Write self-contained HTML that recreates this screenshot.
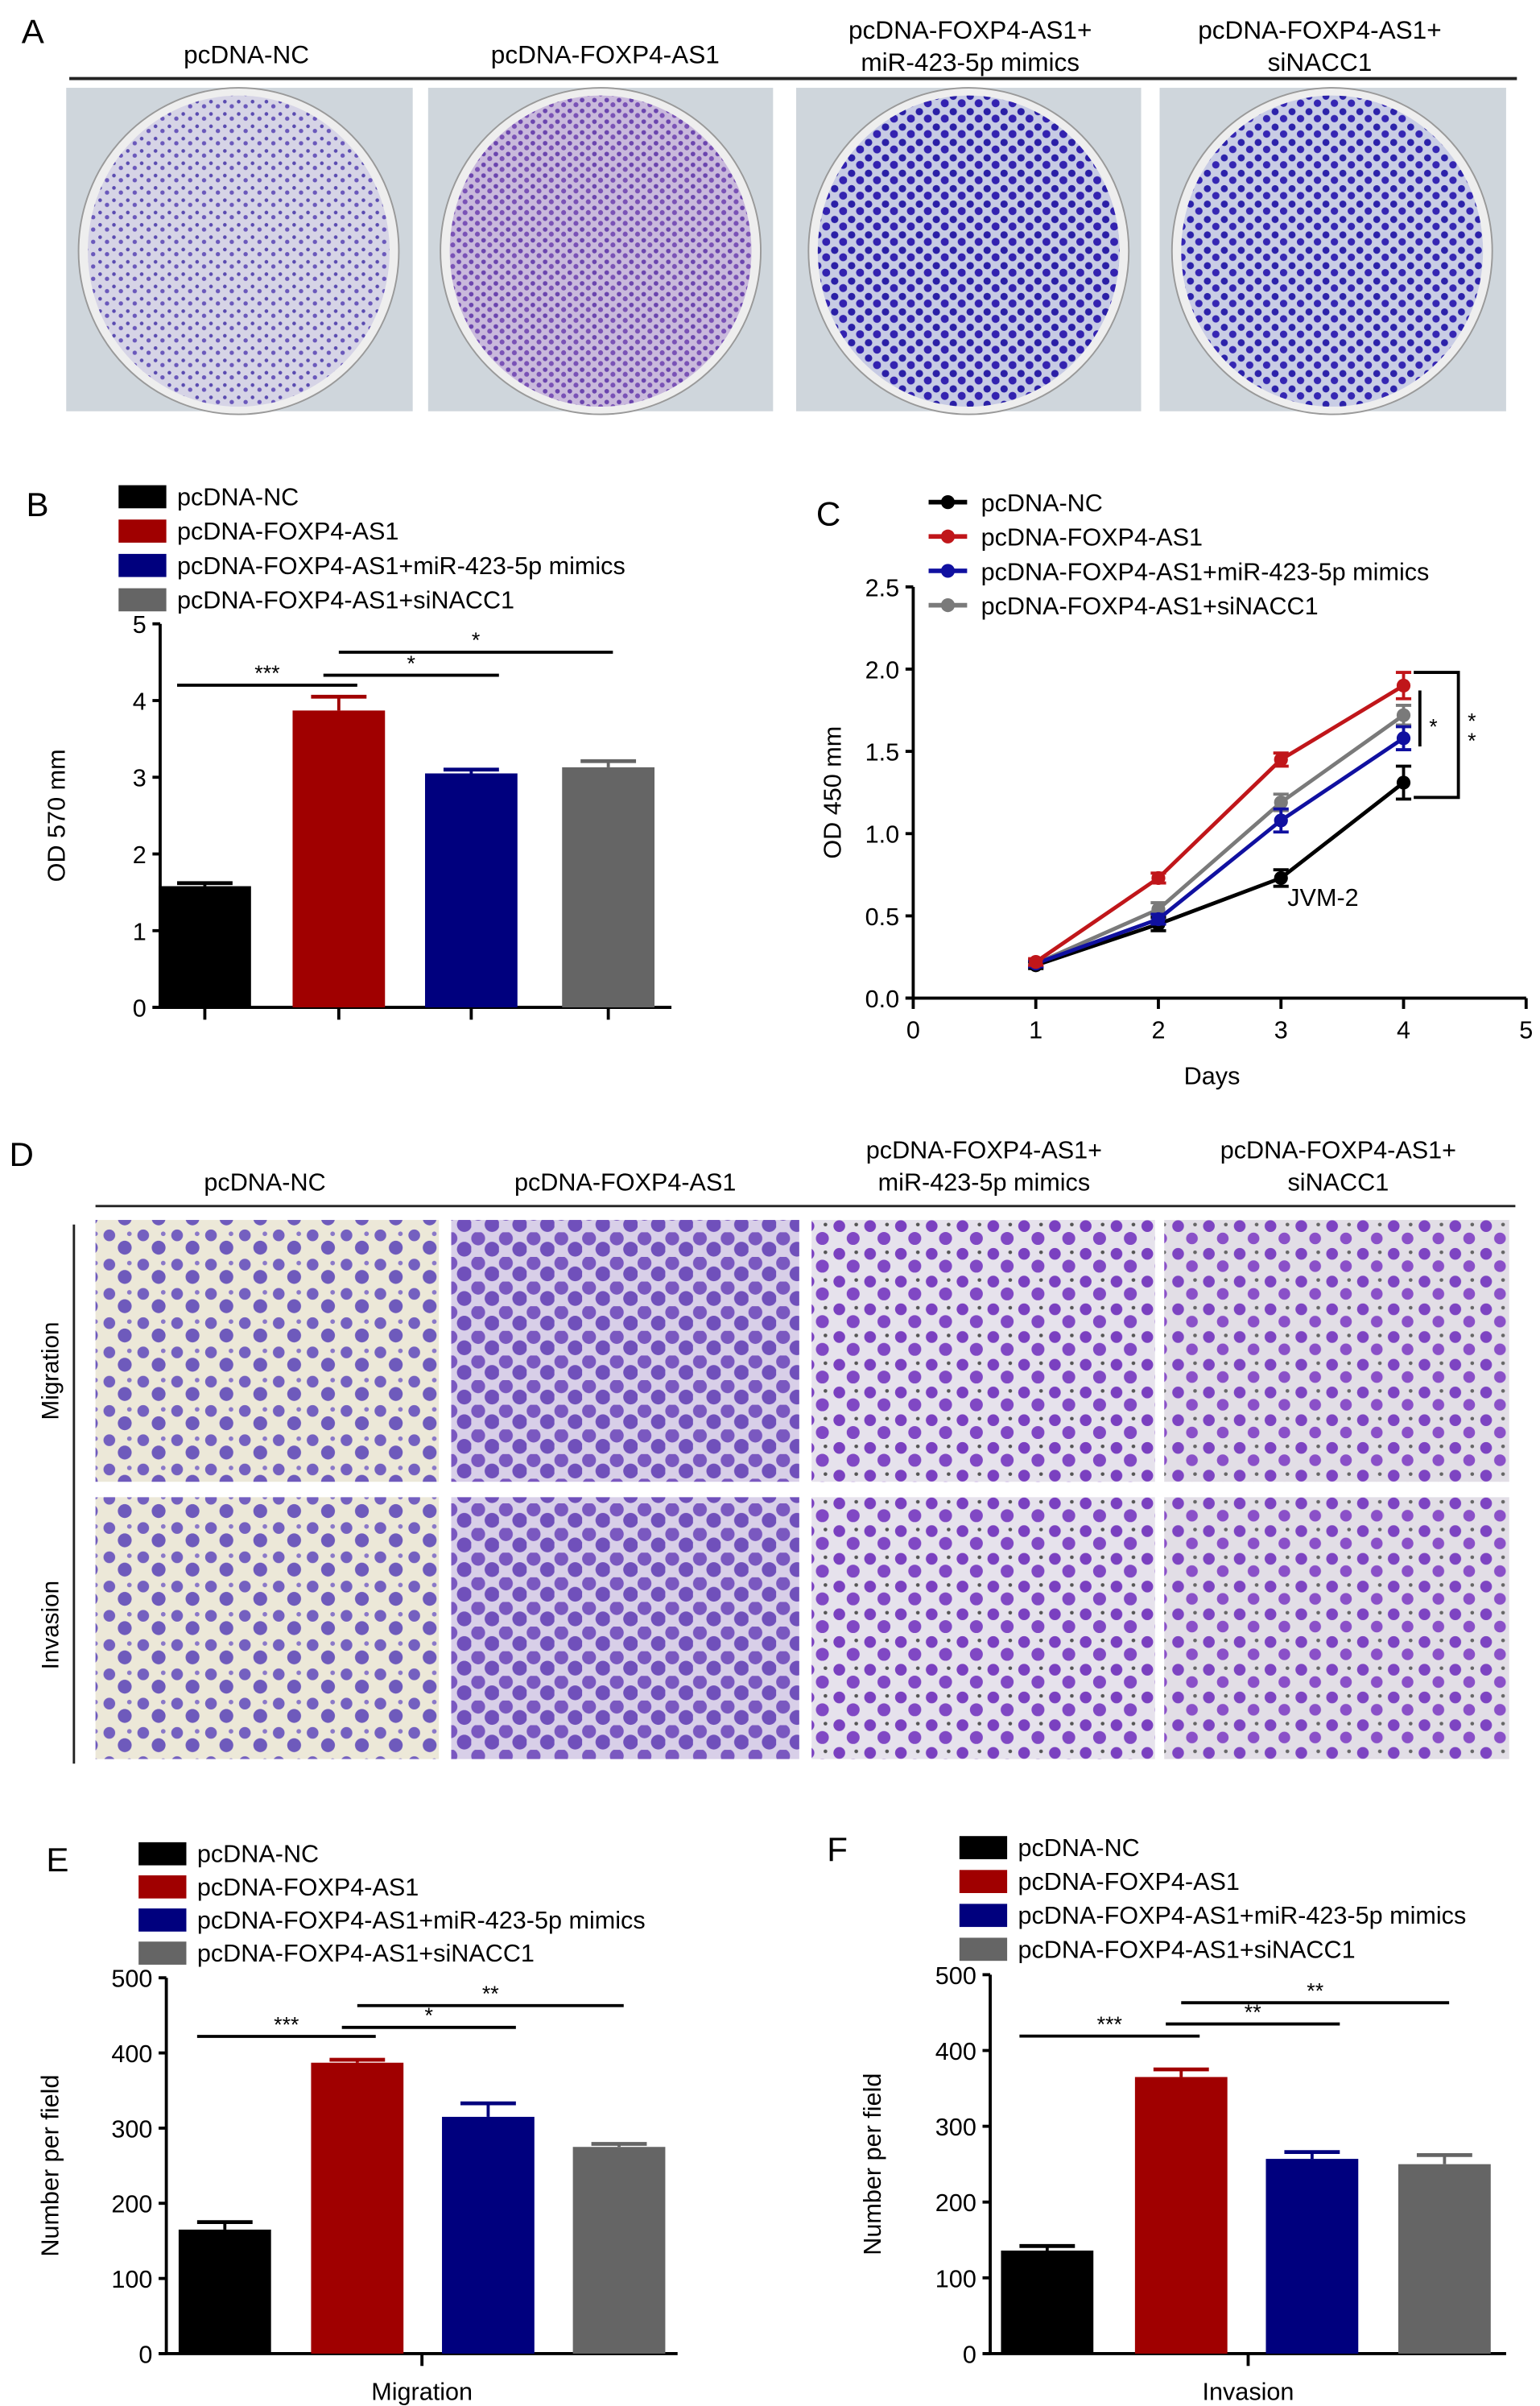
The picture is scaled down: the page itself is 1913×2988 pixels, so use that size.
<!DOCTYPE html>
<html><head><meta charset="utf-8">
<style>
html,body{margin:0;padding:0;background:#fff;}
svg{display:block;font-family:"Liberation Sans",Arial,sans-serif;}
</style></head>
<body>
<svg id="fig" width="1913" height="2988" viewBox="0 0 1000 1562" preserveAspectRatio="none" xmlns="http://www.w3.org/2000/svg">
<defs>
<pattern id="pA1" width="9" height="8" patternUnits="userSpaceOnUse"><rect width="9" height="8" fill="#d6d4e6"/><circle cx="2" cy="2" r="1.2" fill="#5a4bb0"/><circle cx="6.5" cy="5" r="1.4" fill="#6a58bb"/></pattern>
<pattern id="pA2" width="8" height="7" patternUnits="userSpaceOnUse"><rect width="8" height="7" fill="#c9b9dc"/><circle cx="2" cy="2" r="1.5" fill="#6b45ae"/><circle cx="6" cy="5" r="1.6" fill="#7a52b6"/></pattern>
<pattern id="pA3" width="11" height="10" patternUnits="userSpaceOnUse"><rect width="11" height="10" fill="#c7cbe4"/><circle cx="3" cy="2.5" r="2.4" fill="#2a1fa6"/><circle cx="8.5" cy="7" r="2.6" fill="#3322b0"/></pattern>
<pattern id="pA4" width="11" height="10" patternUnits="userSpaceOnUse"><rect width="11" height="10" fill="#c9cde5"/><circle cx="3" cy="2.5" r="2.3" fill="#2c22aa"/><circle cx="8.5" cy="7" r="2.4" fill="#3526b3"/></pattern>
<pattern id="pD1" width="22" height="19" patternUnits="userSpaceOnUse"><rect width="22" height="19" fill="#ece8d8"/><circle cx="5" cy="4" r="3.8" fill="#7460c0"/><circle cx="15" cy="12" r="4.5" fill="#6e5abc"/><circle cx="18" cy="3" r="1.5" fill="#8a78c8"/></pattern>
<pattern id="pD2" width="18" height="16" patternUnits="userSpaceOnUse"><rect width="18" height="16" fill="#d8cfe8"/><circle cx="4.5" cy="4" r="4.5" fill="#7a58c0"/><circle cx="13.5" cy="11" r="4.8" fill="#7050bb"/></pattern>
<pattern id="pD3" width="20" height="18" patternUnits="userSpaceOnUse"><rect width="20" height="18" fill="#e6e2ec"/><circle cx="5" cy="4" r="3.8" fill="#7a40c0"/><circle cx="14" cy="12" r="4.2" fill="#8048c4"/><circle cx="16" cy="3" r="1.2" fill="#555"/></pattern>
<pattern id="pD4" width="20" height="18" patternUnits="userSpaceOnUse"><rect width="20" height="18" fill="#e2dee6"/><circle cx="5" cy="4" r="3.8" fill="#7d44c2"/><circle cx="14" cy="12" r="3.8" fill="#8a50c8"/><circle cx="16" cy="3" r="1.2" fill="#666"/></pattern>
</defs>

<!-- Panel A -->
<text x="14" y="28" font-size="22">A</text>
<g font-size="16.5" text-anchor="middle">
<text x="160" y="41">pcDNA-NC</text>
<text x="393" y="41">pcDNA-FOXP4-AS1</text>
<text x="630" y="25">pcDNA-FOXP4-AS1+</text><text x="630" y="46">miR-423-5p mimics</text>
<text x="857" y="25">pcDNA-FOXP4-AS1+</text><text x="857" y="46">siNACC1</text>
</g>
<line x1="45" y1="51" x2="985" y2="51" stroke="#222" stroke-width="2"/>
<g>
<rect x="43" y="57" width="225" height="210" fill="#cfd6dc"/><ellipse cx="155" cy="163" rx="104" ry="106" fill="#eee" stroke="#999"/><ellipse cx="155" cy="163" rx="98" ry="101" fill="url(#pA1)"/>
<rect x="278" y="57" width="224" height="210" fill="#cfd6dc"/><ellipse cx="390" cy="163" rx="104" ry="106" fill="#eee" stroke="#999"/><ellipse cx="390" cy="163" rx="98" ry="101" fill="url(#pA2)"/>
<rect x="517" y="57" width="224" height="210" fill="#cfd6dc"/><ellipse cx="629" cy="163" rx="104" ry="106" fill="#eee" stroke="#999"/><ellipse cx="629" cy="163" rx="98" ry="101" fill="url(#pA3)"/>
<rect x="753" y="57" width="225" height="210" fill="#cfd6dc"/><ellipse cx="865" cy="163" rx="104" ry="106" fill="#eee" stroke="#999"/><ellipse cx="865" cy="163" rx="98" ry="101" fill="url(#pA4)"/>
</g>

<!-- Panel D -->
<text x="6" y="757" font-size="22">D</text>
<g font-size="16" text-anchor="middle">
<text x="172" y="773">pcDNA-NC</text>
<text x="406" y="773">pcDNA-FOXP4-AS1</text>
<text x="639" y="752">pcDNA-FOXP4-AS1+</text><text x="639" y="773">miR-423-5p mimics</text>
<text x="869" y="752">pcDNA-FOXP4-AS1+</text><text x="869" y="773">siNACC1</text>
</g>
<line x1="62" y1="783" x2="984" y2="783" stroke="#222" stroke-width="1.5"/>
<line x1="48" y1="795" x2="48" y2="1145" stroke="#222" stroke-width="1.5"/>
<text transform="translate(38,890) rotate(-90)" font-size="15.5" text-anchor="middle">Migration</text>
<text transform="translate(38,1055) rotate(-90)" font-size="15.5" text-anchor="middle">Invasion</text>
<g>
<rect x="62" y="792" width="223" height="170" fill="url(#pD1)"/>
<rect x="293" y="792" width="226" height="170" fill="url(#pD2)"/>
<rect x="527" y="792" width="223" height="170" fill="url(#pD3)"/>
<rect x="756" y="792" width="224" height="170" fill="url(#pD4)"/>
<rect x="62" y="972" width="223" height="170" fill="url(#pD1)"/>
<rect x="293" y="972" width="226" height="170" fill="url(#pD2)"/>
<rect x="527" y="972" width="223" height="170" fill="url(#pD3)"/>
<rect x="756" y="972" width="224" height="170" fill="url(#pD4)"/>
</g>
<g id="charts"></g>
</svg>
<script>
const NS="http://www.w3.org/2000/svg";
const root=document.getElementById('charts');
function mk(tag,attrs,parent,text){const e=document.createElementNS(NS,tag);for(const k in attrs)e.setAttribute(k,attrs[k]);if(text!==undefined)e.textContent=text;(parent||root).appendChild(e);return e;}

const groups=["pcDNA-NC","pcDNA-FOXP4-AS1","pcDNA-FOXP4-AS1+miR-423-5p mimics","pcDNA-FOXP4-AS1+siNACC1"];
const barColors=["#000000","#a00000","#00007e","#656565"];
const lineColors=["#000000","#c0161a","#1010a0","#7a7a7a"];

// Panel B
const bVals=[1.58,3.87,3.05,3.13];
const bErr=[0.04,0.18,0.05,0.08];
const bTicks=[0,1,2,3,4,5];
const bSig=[{a:0,b:1,y:4.2,l:"***"},{a:1,b:2,y:4.33,l:"*"},{a:1,b:3,y:4.63,l:"*"}];
// Panel C
const days=[1,2,3,4];
const cVals=[[0.20,0.45,0.73,1.31],[0.22,0.73,1.45,1.90],[0.21,0.48,1.08,1.58],[0.21,0.54,1.19,1.72]];
const cErr=[[0.02,0.04,0.05,0.10],[0.02,0.03,0.04,0.08],[0.02,0.03,0.07,0.07],[0.02,0.04,0.05,0.06]];
const cYTicks=[0,0.5,1.0,1.5,2.0,2.5];
const cXTicks=[0,1,2,3,4,5];
// Panel E
const eVals=[165,387,315,275];
const eErr=[10,4,18,4];
const eSig=[{a:0,b:1,y:422,l:"***"},{a:1,b:2,y:434,l:"*"},{a:1,b:3,y:463,l:"**"}];
// Panel F
const fVals=[136,365,257,250];
const fErr=[6,10,9,12];
const fSig=[{a:0,b:1,y:419,l:"***"},{a:1,b:2,y:435,l:"**"},{a:1,b:3,y:463,l:"**"}];
const nTicks=[0,100,200,300,400,500];

function legend(x,y0,dy,line,cols,name){
  groups.forEach((g,i)=>{
    const y=y0+i*dy;
    const grp=mk('g',{});
    
    
    if(line){mk('line',{x1:x,y1:y,x2:x+25,y2:y,stroke:cols[i],'stroke-width':3},grp);mk('circle',{cx:x+12.5,cy:y,r:4.5,fill:cols[i]},grp);}
    else mk('rect',{x:x,y:y-7,width:31,height:15,fill:cols[i]},grp);
    mk('text',{x:x+(line?34:38),y:y+6,'font-size':16},grp,g);
  });
}

function barChart(o){
  const g=mk('g',{});
  
  
  const sy=v=>o.y0-(v-o.min)/(o.max-o.min)*(o.y0-o.y1);
  mk('line',{x1:o.ax,y1:o.y1,x2:o.ax,y2:o.y0,stroke:'#000','stroke-width':2},g);
  mk('line',{x1:o.ax-5,y1:o.y0,x2:o.xend,y2:o.y0,stroke:'#000','stroke-width':2},g);
  o.ticks.forEach(t=>{
    mk('line',{x1:o.ax-5,y1:sy(t),x2:o.ax,y2:sy(t),stroke:'#000','stroke-width':2},g);
    const tt=mk('text',{x:o.ax-9,y:sy(t)+6,'font-size':16,'text-anchor':'end'},g,t);
    
    
  });
  o.vals.forEach((v,i)=>{
    const cx=o.cx[i];
    const r=mk('rect',{x:cx-30,y:sy(v),width:60,height:o.y0-sy(v),fill:barColors[i]},g);
    
    
    const ye=sy(v+o.err[i]);
    mk('line',{x1:cx,y1:sy(v),x2:cx,y2:ye,stroke:barColors[i],'stroke-width':2},g);
    mk('line',{x1:cx-18,y1:ye,x2:cx+18,y2:ye,stroke:barColors[i],'stroke-width':2.5},g);
    if(o.xticks) mk('line',{x1:cx,y1:o.y0,x2:cx,y2:o.y0+8,stroke:'#000','stroke-width':2},g);
  });
  if(!o.xticks) mk('line',{x1:(o.ax+o.xend)/2,y1:o.y0,x2:(o.ax+o.xend)/2,y2:o.y0+8,stroke:'#000','stroke-width':2},g);
  o.sig.forEach(s=>{
    const y=sy(s.y);
    const x1=o.cx[s.a]-(s.a===0?18:(s.b===2?10:0)), x2=o.cx[s.b]+(s.a===0?12:(s.b===2?18:3));
    const l=mk('line',{x1:x1,y1:y,x2:x2,y2:y,stroke:'#000','stroke-width':2},g);
    
    
    mk('text',{x:(x1+x2)/2,y:y-3,'font-size':14,'text-anchor':'middle'},g,s.l);
  });
  const yl=mk('text',{transform:`translate(${o.ylx},${(o.y0+o.y1)/2}) rotate(-90)`,'font-size':16,'text-anchor':'middle'},g,o.ylabel);
  
  
  if(o.xlabel){const xl=mk('text',{x:(o.ax+o.xend)/2,y:o.y0+30,'font-size':16,'text-anchor':'middle'},g,o.xlabel);
    
    }
}

// B
mk('text',{x:17,y:335,'font-size':22},root,'B');
legend(77,322,22.3,false,barColors,'panel-b');
barChart({name:'panel-b-chart',ax:104,y0:654,y1:405,min:0,max:5,xend:436,ticks:bTicks,vals:bVals,err:bErr,cx:[133,220,306,395],sig:bSig,ylabel:'OD 570 mm',ylx:42,xticks:true});

// E
mk('text',{x:30,y:1215,'font-size':22},root,'E');
legend(90,1203,21.5,false,barColors,'panel-e');
barChart({name:'panel-e-chart',ax:108,y0:1528,y1:1284,min:0,max:500,xend:440,ticks:nTicks,vals:eVals,err:eErr,cx:[146,232,317,402],sig:eSig,ylabel:'Number per field',ylx:38,xlabel:'Migration',xticks:false});

// F
mk('text',{x:537,y:1208,'font-size':22},root,'F');
legend(623,1199,22,false,barColors,'panel-f');
barChart({name:'panel-f-chart',ax:643,y0:1528,y1:1282,min:0,max:500,xend:978,ticks:nTicks,vals:fVals,err:fErr,cx:[680,767,852,938],sig:fSig,ylabel:'Number per field',ylx:572,xlabel:'Invasion',xticks:false});

// C
mk('text',{x:530,y:341,'font-size':22},root,'C');
legend(603,326,22.3,true,lineColors,'panel-c');
(function(){
  const g=mk('g',{});
  
  
  const ax=593,y0=648,y1=381,xe=991;
  const sx=d=>ax+d/5*(xe-ax), sy=v=>y0-v/2.5*(y0-y1);
  mk('line',{x1:ax,y1:y1,x2:ax,y2:y0,stroke:'#000','stroke-width':2},g);
  mk('line',{x1:ax-5,y1:y0,x2:xe,y2:y0,stroke:'#000','stroke-width':2},g);
  cYTicks.forEach(t=>{
    mk('line',{x1:ax-5,y1:sy(t),x2:ax,y2:sy(t),stroke:'#000','stroke-width':2},g);
    mk('text',{x:ax-9,y:sy(t)+6,'font-size':16,'text-anchor':'end'},g,t.toFixed(1));
  });
  cXTicks.forEach(t=>{
    mk('line',{x1:sx(t),y1:y0,x2:sx(t),y2:y0+7,stroke:'#000','stroke-width':2},g);
    mk('text',{x:sx(t),y:y0+26,'font-size':16,'text-anchor':'middle'},g,t);
  });
  [3,0,2,1].forEach(i=>{
    const s=mk('polyline',{points:days.map((d,j)=>sx(d)+','+sy(cVals[i][j])).join(' '),fill:'none',stroke:lineColors[i],'stroke-width':2.5},g);
    
    
    days.forEach((d,j)=>{
      const x=sx(d),v=cVals[i][j],e=cErr[i][j];
      mk('line',{x1:x,y1:sy(v-e),x2:x,y2:sy(v+e),stroke:lineColors[i],'stroke-width':2},g);
      mk('line',{x1:x-5,y1:sy(v+e),x2:x+5,y2:sy(v+e),stroke:lineColors[i],'stroke-width':2},g);
      mk('line',{x1:x-5,y1:sy(v-e),x2:x+5,y2:sy(v-e),stroke:lineColors[i],'stroke-width':2},g);
      const p=mk('circle',{cx:x,cy:sy(v),r:4.5,fill:lineColors[i]},g);
      
      
    });
  });
  mk('line',{x1:922,y1:sy(1.87),x2:922,y2:sy(1.53),stroke:'#000','stroke-width':2},g);
  mk('text',{x:928,y:sy(1.68)+8,'font-size':14},g,'*');
  mk('polyline',{points:`918,${sy(1.98)} 947,${sy(1.98)} 947,${sy(1.22)} 918,${sy(1.22)}`,fill:'none',stroke:'#000','stroke-width':2},g);
  mk('text',{x:953,y:sy(1.64),'font-size':14},g,'*');
  mk('text',{x:953,y:sy(1.52),'font-size':14},g,'*');
  mk('text',{x:836,y:588,'font-size':16},g,'JVM-2');
  const xl=mk('text',{x:787,y:704,'font-size':16,'text-anchor':'middle'},g,'Days');
  
  
  const yl=mk('text',{transform:`translate(546,${(y0+y1)/2}) rotate(-90)`,'font-size':16,'text-anchor':'middle'},g,'OD 450 mm');
  
  
})();
</script>
</body></html>
